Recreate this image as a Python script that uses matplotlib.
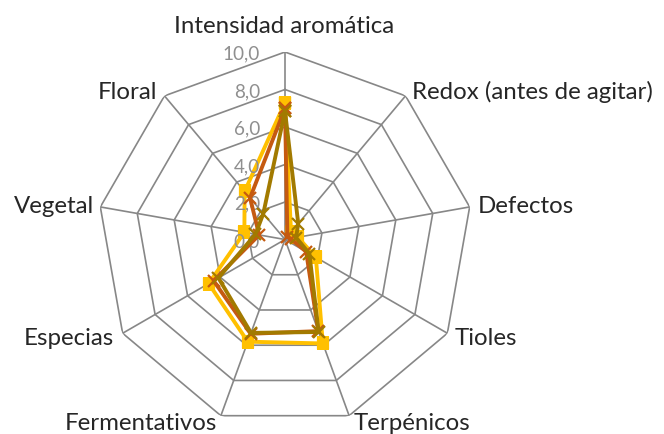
import matplotlib.pyplot as plt
import numpy as np

# -----------------------------
# Data
# -----------------------------
categories = ['Intensidad aromática', 'Redox (antes de agitar)', 'Defectos',
              'Tioles', 'Terpénicos', 'Fermentativos', 'Especias',
              'Vegetal', 'Floral']

serie_amarilla = [7.3, 0.5, 0.7, 1.9, 5.9, 5.8, 4.7, 2.2, 3.35]
serie_naranja = [7.0, 0.2, 0.3, 1.3, 5.2, 5.35, 4.4, 1.4, 2.9]
serie_oliva = [6.85, 1.1, 0.6, 1.5, 5.25, 5.3, 4.1, 1.6, 1.8]

rings = [0, 2, 4, 6, 8, 10]
ring_labels = ['0,0', '2,0', '4,0', '6,0', '8,0', '10,0']

# -----------------------------
# Style
# -----------------------------
plt.rcParams['font.family'] = ['Lato', 'DejaVu Sans']
grid_color = '#878787'
text_color = '#262626'
colors = ['#FFC000', '#C55A11', '#A27A00']
markers = ['s', 'x', 'x']

# label offsets in pixels (dx, dy) and alignment, one per category
label_pos = [
    (-1, 19, 'center'),
    (6, -3, 'left'),
    (8, -6, 'left'),
    (7, -12, 'left'),
    (4, -14, 'left'),
    (-4, -14, 'right'),
    (-9, -12, 'right'),
    (-6, -6, 'right'),
    (-7, -3, 'right'),
]


def main():
    W, H = 664, 434
    fig = plt.figure(figsize=(W / 100, H / 100), dpi=100)
    cx, cy, R = 285, 239.5, 187.5
    ax = fig.add_axes([(cx - R) / W, (H - cy - R) / H, 2 * R / W, 2 * R / H],
                      projection='polar')
    ax.set_theta_offset(np.pi / 2)
    ax.set_theta_direction(-1)
    ax.set_ylim(0, 10)
    ax.grid(False)
    ax.spines['polar'].set_visible(False)
    ax.set_xticks([])
    ax.set_yticks([])
    ax.patch.set_alpha(0)

    n = len(categories)
    theta = np.linspace(0, 2 * np.pi, n, endpoint=False)
    theta_c = np.append(theta, theta[0])

    # -----------------------------
    # Polygon grid
    # -----------------------------
    for r in rings[1:]:
        ax.plot(theta_c, [r] * (n + 1), color=grid_color, lw=1.2, zorder=1)
    for t in theta:
        ax.plot([t, t], [0, rings[-1]], color=grid_color, lw=1.2, zorder=1)

    # -----------------------------
    # Series
    # -----------------------------
    series = [serie_amarilla, serie_naranja, serie_oliva]
    for i, (vals, color, m) in enumerate(zip(series, colors, markers)):
        v = np.append(vals, vals[0])
        ax.plot(theta_c, v, color=color, lw=2.8, zorder=3 + i,
                marker=m, markersize=7.5 if m == 's' else 8,
                markeredgewidth=1.6, markerfacecolor=color,
                markeredgecolor=color)

    # -----------------------------
    # Ring labels
    # -----------------------------
    for r, lab in zip(rings, ring_labels):
        ax.annotate(lab, xy=(0, r), xytext=(-25, -2),
                    textcoords='offset pixels', ha='right', va='center',
                    fontsize=13.6, color='#8f8f8f', annotation_clip=False)

    # -----------------------------
    # Category labels
    # -----------------------------
    for t, lab, (dx, dy, ha) in zip(theta, categories, label_pos):
        ax.annotate(lab, xy=(t, rings[-1]), xytext=(dx, dy),
                    textcoords='offset pixels', ha=ha, va='baseline',
                    fontsize=17.3, color=text_color, annotation_clip=False)

    plt.savefig('out.png', dpi=100)


if __name__ == "__main__":
    main()
